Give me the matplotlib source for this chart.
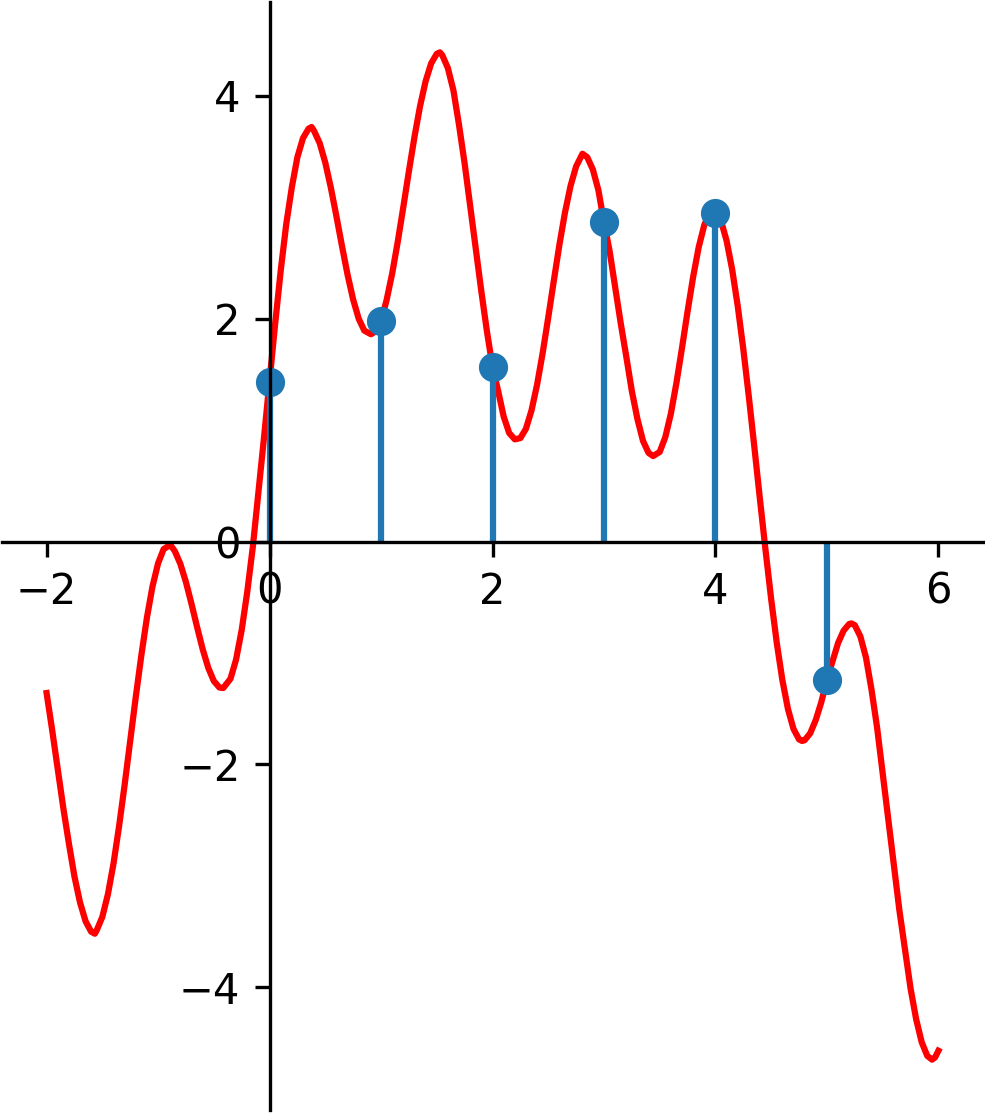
import numpy as np
import matplotlib
matplotlib.use("Agg")
import matplotlib.pyplot as plt

# muestras (enteros 0..5)
n_samples = [0, 1, 2, 3, 4, 5]
x_samples = [1.435, 1.975, 1.57, 2.865, 2.95, -1.24]

# senal continua
t_curve = [-2.0, -1.95, -1.9, -1.85, -1.8, -1.75, -1.7, -1.65, -1.6, -1.567,
           -1.55, -1.5, -1.45, -1.4, -1.35, -1.3, -1.25, -1.2, -1.15, -1.1, -1.05, -1.0, -0.95, -0.89,
           -0.85, -0.8, -0.75, -0.7, -0.65, -0.6, -0.55, -0.5, -0.45, -0.415,
           -0.35, -0.3, -0.25, -0.2, -0.15, -0.1, -0.05, 0.0, 0.05, 0.1, 0.15, 0.2, 0.25, 0.3, 0.35, 0.377,
           0.4, 0.45, 0.5, 0.55, 0.6, 0.65, 0.7, 0.75, 0.8, 0.85, 0.91,
           0.95, 1.0, 1.05, 1.1, 1.15, 1.2, 1.25, 1.3, 1.35, 1.4, 1.45, 1.5, 1.528,
           1.55, 1.6, 1.65, 1.7, 1.75, 1.8, 1.85, 1.9, 1.95, 2.0, 2.05, 2.1, 2.15, 2.2,
           2.25, 2.3, 2.35, 2.4, 2.45, 2.5, 2.55, 2.6, 2.65, 2.7, 2.75, 2.807,
           2.85, 2.9, 2.95, 3.0, 3.05, 3.1, 3.15, 3.2, 3.25, 3.3, 3.35, 3.4, 3.441,
           3.5, 3.55, 3.6, 3.65, 3.7, 3.75, 3.8, 3.85, 3.9, 3.95, 3.975,
           4.0, 4.05, 4.1, 4.15, 4.2, 4.25, 4.3, 4.35, 4.4, 4.45, 4.5, 4.55, 4.6, 4.65, 4.7, 4.75, 4.777,
           4.8, 4.85, 4.9, 4.95, 5.0, 5.05, 5.1, 5.15, 5.2, 5.22,
           5.25, 5.3, 5.35, 5.4, 5.45, 5.5, 5.55, 5.6, 5.65, 5.7, 5.75, 5.8, 5.85, 5.9, 5.943, 5.97, 6.0]
x_curve = [-1.36, -1.692, -2.04, -2.392, -2.71, -3.007, -3.24, -3.409, -3.502, -3.52,
           -3.488, -3.369, -3.166, -2.892, -2.557, -2.184, -1.792, -1.395, -1.021, -0.683, -0.403, -0.196, -0.068, -0.03,
           -0.086, -0.201, -0.364, -0.56, -0.768, -0.966, -1.133, -1.252, -1.31, -1.315,
           -1.231, -1.058, -0.795, -0.453, -0.048, 0.44, 0.93, 1.435, 1.95, 2.43, 2.85, 3.18, 3.45, 3.62, 3.705, 3.72,
           3.684, 3.575, 3.40, 3.175, 2.918, 2.651, 2.394, 2.171, 1.999, 1.893, 1.86,
           1.886, 1.975, 2.167, 2.405, 2.69, 3.002, 3.323, 3.631, 3.907, 4.131, 4.292, 4.377, 4.39,
           4.364, 4.248, 4.046, 3.736, 3.393, 3.008, 2.622, 2.244, 1.886, 1.57, 1.354, 1.122, 0.973, 0.917,
           0.928, 1.012, 1.177, 1.408, 1.692, 2.01, 2.34, 2.662, 2.952, 3.191, 3.366, 3.48,
           3.449, 3.339, 3.153, 2.865, 2.61, 2.284, 1.96, 1.66, 1.35, 1.10, 0.903, 0.795, 0.767,
           0.804, 0.936, 1.147, 1.424, 1.738, 2.066, 2.376, 2.643, 2.841, 2.956, 2.98,
           2.96, 2.878, 2.699, 2.441, 2.112, 1.726, 1.295, 0.838, 0.371, -0.085, -0.519, -0.91, -1.242, -1.502, -1.682, -1.776, -1.79,
           -1.783, -1.721, -1.601, -1.44, -1.24, -1.074, -0.911, -0.799, -0.74, -0.735,
           -0.751, -0.852, -1.04, -1.33, -1.67, -2.08, -2.49, -2.90, -3.31, -3.66, -4.01, -4.286, -4.493, -4.616, -4.65, -4.63, -4.57]

fig = plt.figure(figsize=(985 / 300, 1114 / 300), dpi=300)
ax = fig.add_axes([2 / 985, 4 / 1114, 981 / 985, 1108 / 1114])

ax.plot(t_curve, x_curve, color='red', solid_joinstyle='round')
ax.stem(n_samples, x_samples, basefmt=' ')

# ejes en el origen
ax.spines['left'].set_position(('data', 0))
ax.spines['bottom'].set_position(('data', 0))
ax.spines['right'].set_visible(False)
ax.spines['top'].set_visible(False)

ax.set_xticks([-2, 0, 2, 4, 6])
ax.set_yticks([-4, -2, 0, 2, 4])

fig.savefig("out.png", dpi=300)
